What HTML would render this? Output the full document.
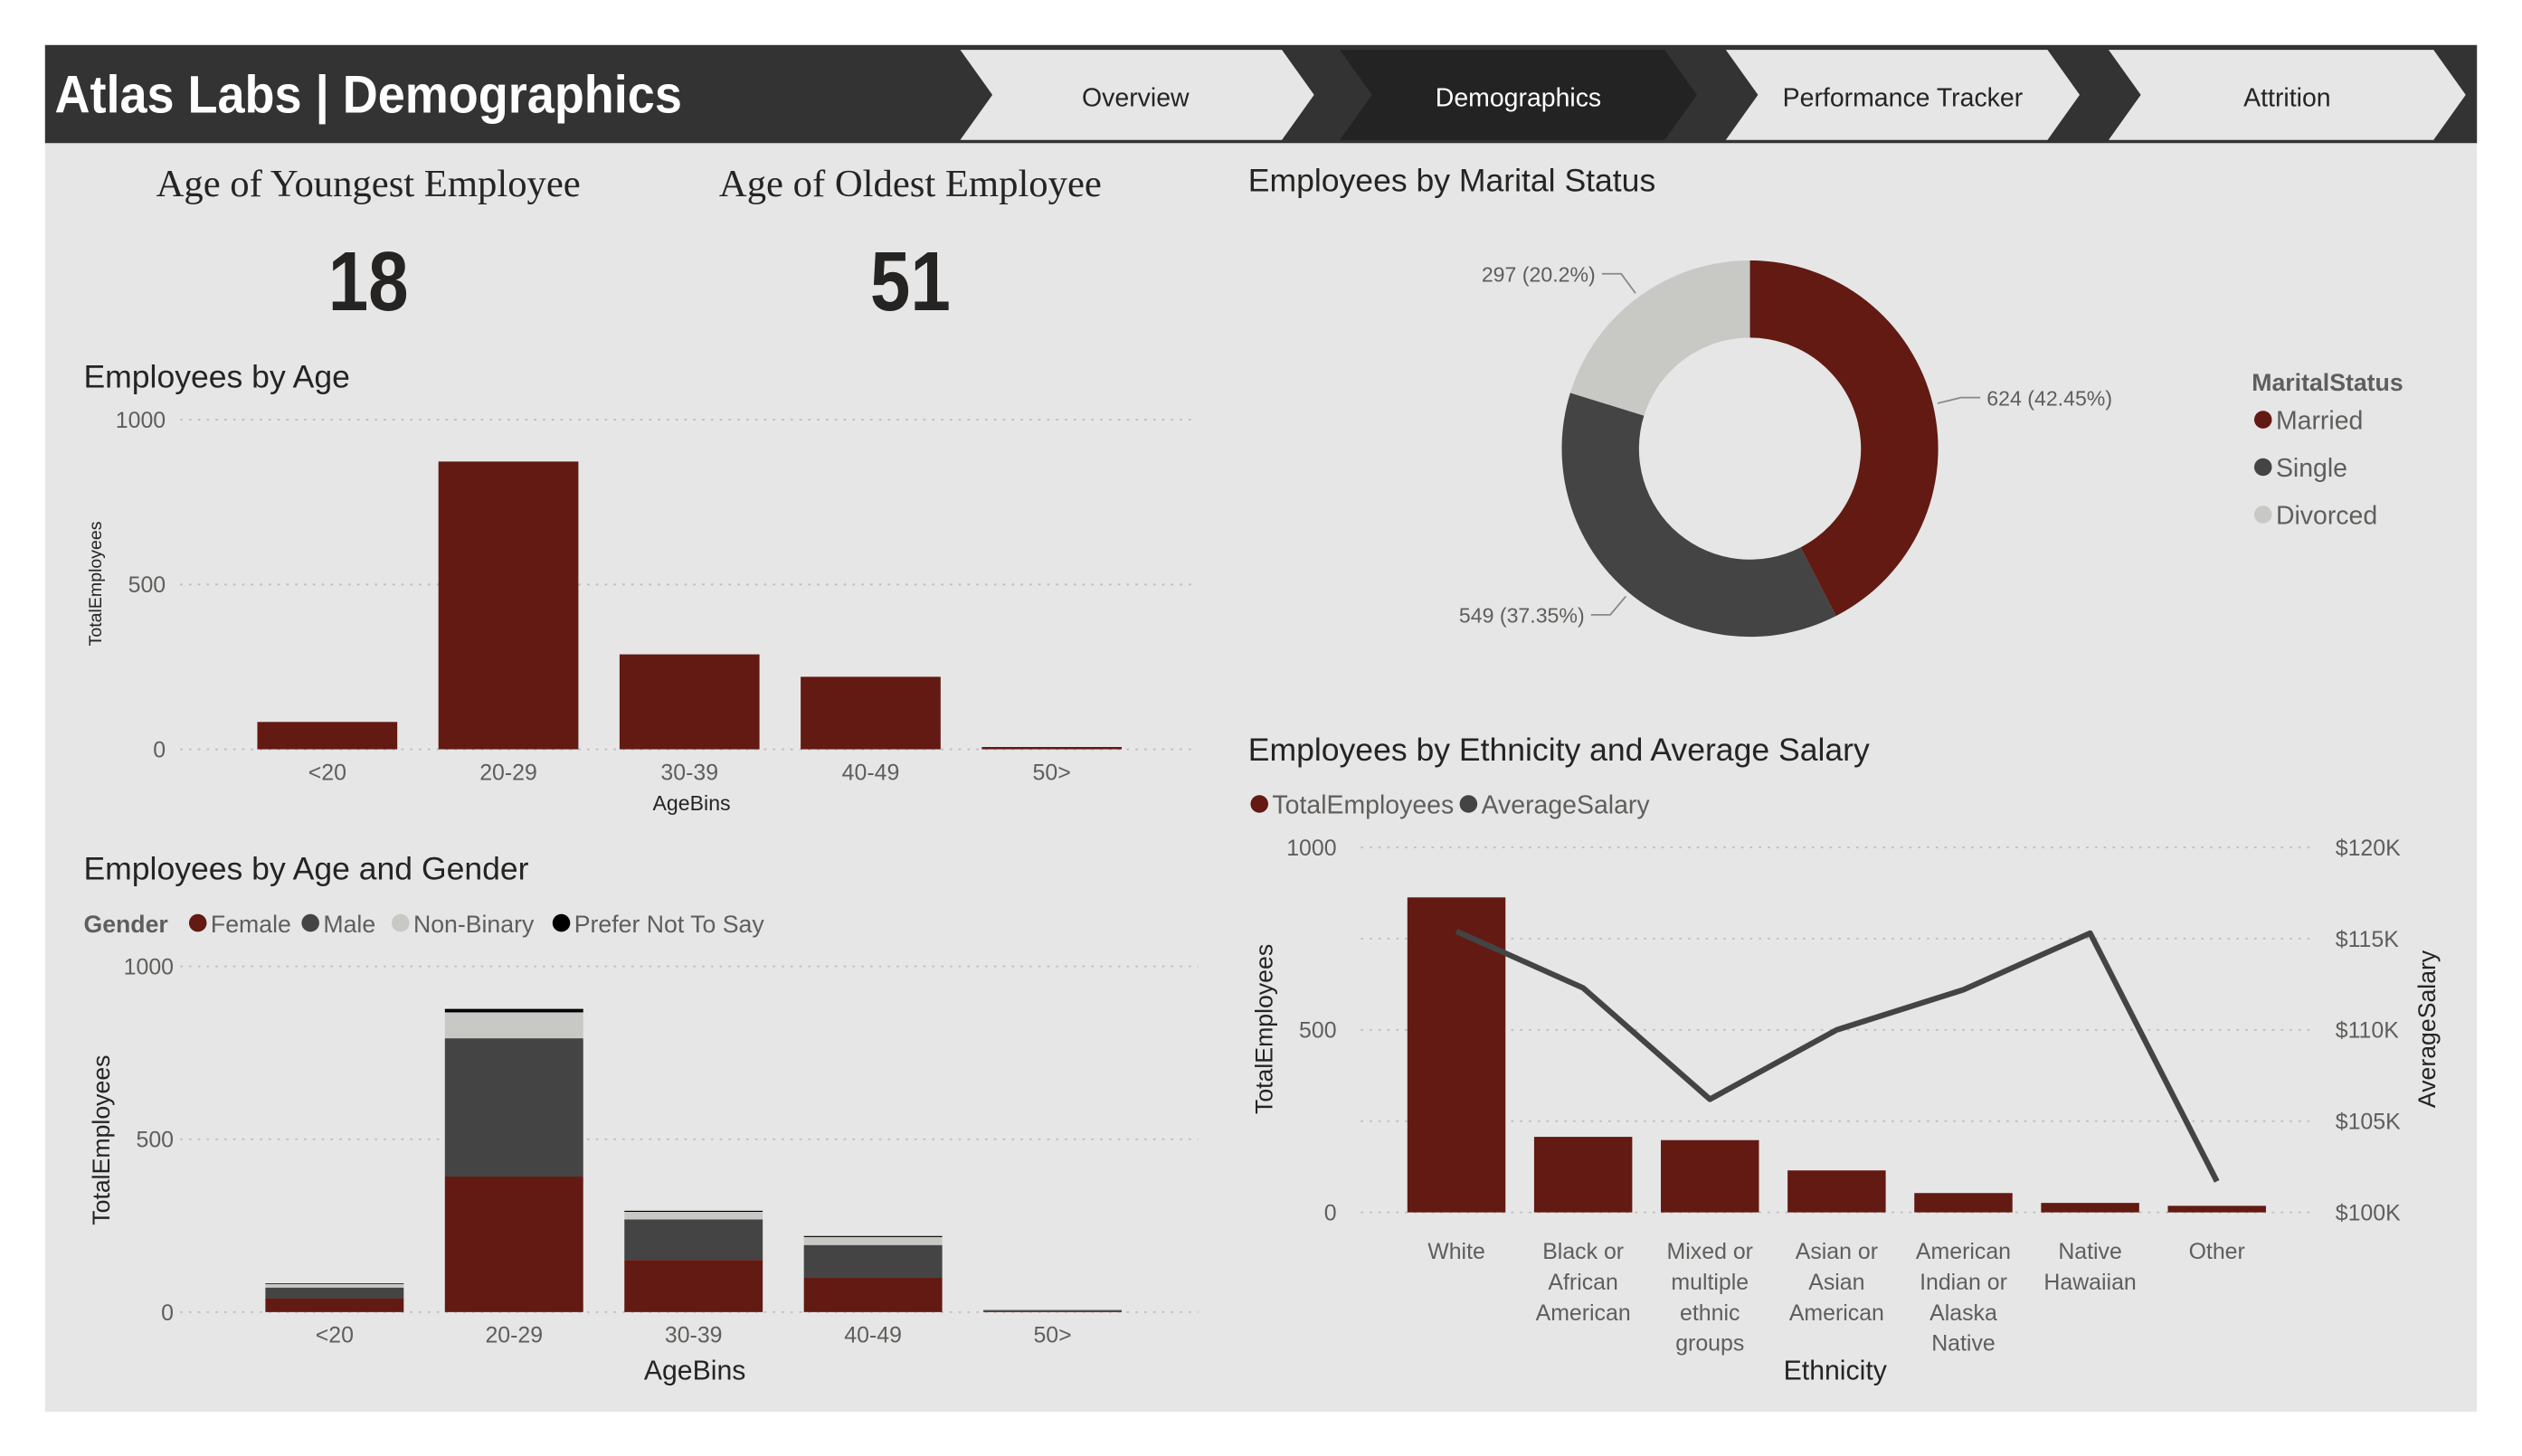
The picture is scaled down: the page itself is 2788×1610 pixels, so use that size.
<!DOCTYPE html>
<html><head><meta charset="utf-8"><style>
html,body{margin:0;padding:0;background:#fff;}
svg{display:block;font-family:"Liberation Sans Narrow","Liberation Sans",sans-serif;}
</style></head><body>
<svg id="root" width="2788" height="1610" viewBox="0 0 1568 905.5" preserveAspectRatio="none" xmlns="http://www.w3.org/2000/svg">
<rect x="28" y="28" width="1512" height="850" fill="#e6e6e6"/>
<rect x="28" y="28" width="1512" height="61" fill="#333333"/>
<text x="34" y="70" font-family="Liberation Sans Narrow, Liberation Sans, sans-serif" font-weight="bold" font-size="33" fill="#fff" textLength="390" lengthAdjust="spacingAndGlyphs">Atlas Labs | Demographics</text>
<g><polygon points="597,31 797,31 817,59 797,87 597,87 617,59" fill="#e6e6e6"/><text x="706" y="66" text-anchor="middle" font-size="16" font-family="Liberation Sans, sans-serif" fill="#252423">Overview</text></g>
<g><polygon points="833,31 1035,31 1055,59 1035,87 833,87 853,59" fill="#232323"/><text x="944" y="66" text-anchor="middle" font-size="16" font-family="Liberation Sans, sans-serif" fill="#fff">Demographics</text></g>
<g><polygon points="1073,31 1273,31 1293,59 1273,87 1073,87 1093,59" fill="#e6e6e6"/><text x="1183" y="66" text-anchor="middle" font-size="16" font-family="Liberation Sans, sans-serif" fill="#252423">Performance Tracker</text></g>
<g><polygon points="1311,31 1513,31 1533,59 1513,87 1311,87 1331,59" fill="#e6e6e6"/><text x="1422" y="66" text-anchor="middle" font-size="16" font-family="Liberation Sans, sans-serif" fill="#252423">Attrition</text></g>

<text x="229" y="122" text-anchor="middle" font-family="Liberation Serif, serif" font-size="24" fill="#252423">Age of Youngest Employee</text>
<text x="229" y="193" text-anchor="middle" font-family="Liberation Sans, sans-serif" font-weight="bold" font-size="52" fill="#252423" textLength="50" lengthAdjust="spacingAndGlyphs">18</text>
<text x="566" y="122" text-anchor="middle" font-family="Liberation Serif, serif" font-size="24" fill="#252423">Age of Oldest Employee</text>
<text x="566" y="193" text-anchor="middle" font-family="Liberation Sans, sans-serif" font-weight="bold" font-size="52" fill="#252423" textLength="50" lengthAdjust="spacingAndGlyphs">51</text>

<text x="52" y="241" font-size="20" fill="#252423">Employees by Age</text>
<g id="c1"></g>
<text x="52" y="547" font-size="20" fill="#252423">Employees by Age and Gender</text>
<g id="c2"></g>
<text x="776" y="119" font-size="20" fill="#252423">Employees by Marital Status</text>
<g id="c3"></g>
<text x="776" y="473" font-size="20" fill="#252423">Employees by Ethnicity and Average Salary</text>
<g id="c4"></g>
</svg>
<script>
// Chart 1
const ageBins = ["<20","20-29","30-39","40-49","50>"];
const ageTotals = [83, 873, 288, 220, 7];
const ageTicks = [0, 500, 1000];
// Chart 2
const genderNames = ["Female","Male","Non-Binary","Prefer Not To Say"];
const femaleVals = [40, 392, 151, 99, 3];
const maleVals = [31, 400, 117, 95, 3];
const nonBinaryVals = [10, 75, 22, 23, 0];
const preferNotVals = [2, 10, 3, 3, 0];
// Chart 3
const maritalNames = ["Married","Single","Divorced"];
const maritalCounts = [624, 549, 297];
const maritalPct = ["42.45%","37.35%","20.2%"];
// Chart 4
const ethnicities = [["White"],["Black or","African","American"],["Mixed or","multiple","ethnic","groups"],["Asian or","Asian","American"],["American","Indian or","Alaska","Native"],["Native","Hawaiian"],["Other"]];
const ethTotals = [863, 207, 198, 115, 53, 26, 18];
const ethSalary = [115.4, 112.3, 106.2, 110.0, 112.2, 115.3, 101.7];
const salaryTicks = [100, 105, 110, 115, 120];

const NS = "http://www.w3.org/2000/svg";
const MAROON="#621a13", DARK="#444444", LIGHT="#c8c8c4", TICK="#605e5c", TXT="#252423";
function el(tag, attrs, parent, text){const e=document.createElementNS(NS,tag);for(const k in attrs)e.setAttribute(k,attrs[k]);if(text!==undefined)e.textContent=text;parent.appendChild(e);return e;}

// ---- Chart 1
(function(){
  const g=document.getElementById('c1');
  const y0=466,y1=261,xL=112,xR=742,bx0=160,step=112.6,bw=87;
  const y=v=>y0-(v/1000)*(y0-y1);
  ageTicks.forEach(t=>{
    const l=el('line',{x1:xL,x2:xR,y1:y(t),y2:y(t),stroke:'#bdbdbd','stroke-dasharray':'1.5,4'},g);
    
    
    const tx=el('text',{x:103,y:y(t)+5,'text-anchor':'end','font-size':14,fill:TICK},g,t);
    
    
  });
  ageBins.forEach((b,i)=>{
    const x=bx0+i*step;
    const r=el('rect',{x:x,y:y(ageTotals[i]),width:bw,height:y0-y(ageTotals[i]),fill:MAROON},g);
    
    
    const t=el('text',{x:x+bw/2,y:485,'text-anchor':'middle','font-size':14,fill:TICK},g,b);
    
    
  });
  const xt=el('text',{x:430,y:504,'text-anchor':'middle','font-size':13,fill:TXT},g,'AgeBins');
  
  
  const yt=el('text',{x:0,y:0,transform:'translate(63,363) rotate(-90)','text-anchor':'middle','font-size':11,'font-family':'Liberation Sans, sans-serif',fill:TXT},g,'TotalEmployees');
  
  
})();

// ---- Chart 2
(function(){
  const g=document.getElementById('c2');
  const y0=816,y1=601,xL=112,xR=745,bx0=165,step=111.6,bw=86;
  const y=v=>y0-(v/1000)*(y0-y1);
  const series=[femaleVals,maleVals,nonBinaryVals,preferNotVals];
  const cols=[MAROON,DARK,LIGHT,'#000'];
  const lt=el('text',{x:52,y:580,'font-size':15,'font-weight':'bold',fill:'#605e5c'},g,'Gender');
  
  
  const lxs=[117,187,243,343];
  genderNames.forEach((n,i)=>{
    const c=el('circle',{cx:lxs[i]+6,cy:574,r:5.5,fill:cols[i]},g);
    
    
    const t=el('text',{x:lxs[i]+14,y:580,'font-size':15,fill:TICK},g,n);
    
    
  });
  [0,500,1000].forEach(t=>{
    const l=el('line',{x1:xL,x2:xR,y1:y(t),y2:y(t),stroke:'#bdbdbd','stroke-dasharray':'1.5,4'},g);
    
    
    const tx=el('text',{x:108,y:y(t)+5,'text-anchor':'end','font-size':14,fill:TICK},g,t);
    
    
  });
  ageBins.forEach((b,i)=>{
    const x=bx0+i*step;let acc=0;
    series.forEach((s,k)=>{
      const v=s[i];if(v<=0)return;
      const r=el('rect',{x:x,y:y(acc+v),width:bw,height:y(acc)-y(acc+v),fill:cols[k]},g);
      
      
      acc+=v;
    });
    const t=el('text',{x:x+bw/2,y:835,'text-anchor':'middle','font-size':14,fill:TICK},g,b);
    
    
  });
  const xt=el('text',{x:432,y:858,'text-anchor':'middle','font-size':17,fill:TXT},g,'AgeBins');
  
  
  const yt=el('text',{x:0,y:0,transform:'translate(68,709) rotate(-90)','text-anchor':'middle','font-size':15,'font-family':'Liberation Sans, sans-serif',fill:TXT},g,'TotalEmployees');
  
  
})();

// ---- Chart 3 donut
(function(){
  const g=document.getElementById('c3');
  const cx=1088,cy=279,R=117,r=69;
  const cols=[MAROON,DARK,LIGHT];
  const total=maritalCounts.reduce((a,b)=>a+b,0);
  let a0=0;
  const pt=(a,rad)=>[cx+rad*Math.sin(a),cy-rad*Math.cos(a)];
  maritalCounts.forEach((v,i)=>{
    const a1=a0+v/total*2*Math.PI;
    const large=(a1-a0)>Math.PI?1:0;
    const p0=pt(a0,R),p1=pt(a1,R),q1=pt(a1,r),q0=pt(a0,r);
    const p=el('path',{d:`M${p0[0]},${p0[1]} A${R},${R} 0 ${large} 1 ${p1[0]},${p1[1]} L${q1[0]},${q1[1]} A${r},${r} 0 ${large} 0 ${q0[0]},${q0[1]} Z`,fill:cols[i]},g);
    
    
    const am=(a0+a1)/2;
    const s=pt(am,R+3),m=pt(am,R+18);
    const right=Math.sin(am)>=0;
    const ex=m[0]+(right?12:-12);
    const ln=el('polyline',{points:`${s[0]},${s[1]} ${m[0]},${m[1]} ${ex},${m[1]}`,fill:'none',stroke:'#8a8886','stroke-width':1},g);
    
    
    const t=el('text',{x:ex+(right?4:-4),y:m[1]+5,'text-anchor':right?'start':'end','font-size':13,'font-family':'Liberation Sans, sans-serif',fill:TICK},g,`${v} (${maritalPct[i]})`);
    
    
    a0=a1;
  });
  const lt=el('text',{x:1400,y:243,'font-size':15,'font-weight':'bold',fill:'#605e5c'},g,'MaritalStatus');
  
  
  maritalNames.forEach((n,i)=>{
    const yy=261+i*29.5;
    const c=el('circle',{cx:1407,cy:yy,r:5.5,fill:cols[i]},g);
    
    
    const t=el('text',{x:1415,y:yy+6,'font-size':16,fill:TICK},g,n);
    
    
  });
})();

// ---- Chart 4 combo
(function(){
  const g=document.getElementById('c4');
  const y0=754,y1=527,xL=846,xR=1440,bx0=875,step=78.8,bw=61;
  const y=v=>y0-(v/1000)*(y0-y1);
  const ys=v=>y0-((v-100)/20)*(y0-y1);
  const lg=[[777,MAROON,'TotalEmployees'],[907,DARK,'AverageSalary']];
  lg.forEach(l=>{
    const c=el('circle',{cx:l[0]+6,cy:500,r:5.5,fill:l[1]},g);
    
    
    const t=el('text',{x:l[0]+14,y:506,'font-size':16,fill:TICK},g,l[2]);
    
    
  });
  salaryTicks.forEach(t=>{
    const l=el('line',{x1:xL,x2:xR,y1:ys(t),y2:ys(t),stroke:'#bdbdbd','stroke-dasharray':'1.5,4'},g);
    
    
    const tx=el('text',{x:1452,y:ys(t)+5,'font-size':14,fill:TICK},g,'$'+t+'K');
    
    
  });
  [0,500,1000].forEach(t=>{
    const tx=el('text',{x:831,y:y(t)+5,'text-anchor':'end','font-size':14,fill:TICK},g,t);
    
    
  });
  const pts=[];
  ethnicities.forEach((lines,i)=>{
    const x=bx0+i*step;
    const r=el('rect',{x:x,y:y(ethTotals[i]),width:bw,height:y0-y(ethTotals[i]),fill:MAROON},g);
    
    
    pts.push((x+bw/2)+','+ys(ethSalary[i]));
    lines.forEach((ln,j)=>{
      const t=el('text',{x:x+bw/2,y:783+j*19,'text-anchor':'middle','font-size':14,fill:TICK},g,ln);
      
      
    });
  });
  const pl=el('polyline',{points:pts.join(' '),fill:'none',stroke:DARK,'stroke-width':3.5,'stroke-linejoin':'round'},g);
  
  
  const xt=el('text',{x:1141,y:858,'text-anchor':'middle','font-size':17,fill:TXT},g,'Ethnicity');
  
  
  const yt=el('text',{x:0,y:0,transform:'translate(791,640) rotate(-90)','text-anchor':'middle','font-size':15,'font-family':'Liberation Sans, sans-serif',fill:TXT},g,'TotalEmployees');
  
  
  const yt2=el('text',{x:0,y:0,transform:'translate(1514,640) rotate(-90)','text-anchor':'middle','font-size':15,'font-family':'Liberation Sans, sans-serif',fill:TXT},g,'AverageSalary');
  
  
})();
</script>
</body></html>
